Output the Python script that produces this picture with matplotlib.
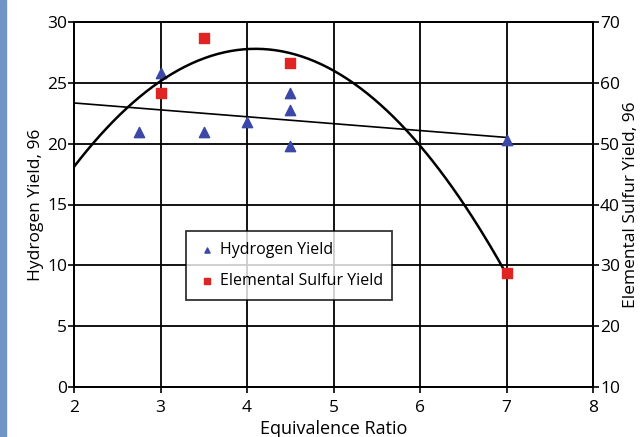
import numpy as np
import matplotlib
matplotlib.use("Agg")
import matplotlib.pyplot as plt
from matplotlib.patches import Rectangle

# Data
h2_x = [2.75, 3.0, 3.5, 4.0, 4.5, 4.5, 4.5, 7.0]
h2_y = [21.0, 25.8, 21.0, 21.8, 24.2, 22.8, 19.8, 20.3]
s_x = [3.0, 3.5, 4.5, 7.0]
s_y = [58.3, 67.4, 63.3, 28.7]
x_ticks = [2, 3, 4, 5, 6, 7, 8]
left_ticks = [0, 5, 10, 15, 20, 25, 30]
right_ticks = [10, 20, 30, 40, 50, 60, 70]

plt.rcParams['font.family'] = ['Open Sans', 'DejaVu Sans']

W, H = 642, 437
fig = plt.figure(figsize=(W / 100, H / 100), dpi=100)
fig.patches.append(Rectangle((0, 0), 6 / W, 1, transform=fig.transFigure,
                             color='#6f94c6', zorder=0))

ax = fig.add_axes([74 / W, 1 - 387 / H, (593 - 74) / W, (387 - 22) / H])
ax2 = ax.twinx()

ax.set_xlim(2, 8)
ax.set_ylim(0, 30)
ax2.set_ylim(10, 70)
ax.set_xticks(x_ticks)
ax.set_yticks(left_ticks)
ax2.set_yticks(right_ticks)
ax.grid(True, color='black', lw=1.3)
ax.set_axisbelow(True)

for a in (ax, ax2):
    for sp in a.spines.values():
        sp.set_linewidth(1.3)
    a.tick_params(labelsize=12.5, width=1.2, length=4, colors='black', pad=1)
ax.tick_params(axis='x', pad=5)

# Hydrogen linear trend
c1 = np.polyfit(h2_x, h2_y, 1)
xl = np.linspace(2, 7, 50)
ax.plot(xl, np.polyval(c1, xl), color='black', lw=1.2, zorder=3)
# Sulfur quadratic trend
c2 = np.polyfit(s_x, s_y, 2)
xq = np.linspace(2, 7, 200)
ax2.plot(xq, np.polyval(c2, xq), color='black', lw=1.8, zorder=3)

h = ax.scatter(h2_x, h2_y, marker='^', s=55, color='#3b48a8', zorder=5,
               label='Hydrogen Yield', clip_on=False)
sq = ax2.scatter(s_x, s_y, marker='s', s=60, color='#e02424', zorder=5,
                 label='Elemental Sulfur Yield', clip_on=False)

ax.set_xlabel('Equivalence Ratio', fontsize=13, labelpad=3)
ax.set_ylabel('Hydrogen Yield, 96', fontsize=12.5, labelpad=2)
ax2.set_ylabel('Elemental Sulfur Yield, 96', fontsize=12.5, labelpad=2)

leg = ax2.legend(handles=[h, sq], loc='lower left',
                 bbox_to_anchor=((178 - 74) / 519, (387 - 308) / 365,
                                 222 / 519, 76 / 365),
                 mode='expand', fontsize=11.5, frameon=True, fancybox=False,
                 edgecolor='black', markerscale=0.5, handletextpad=0.2,
                 borderpad=0.7, labelspacing=0.9, handlelength=1.2)
leg.get_frame().set_linewidth(1.3)

fig.savefig('out.png', dpi=100)
